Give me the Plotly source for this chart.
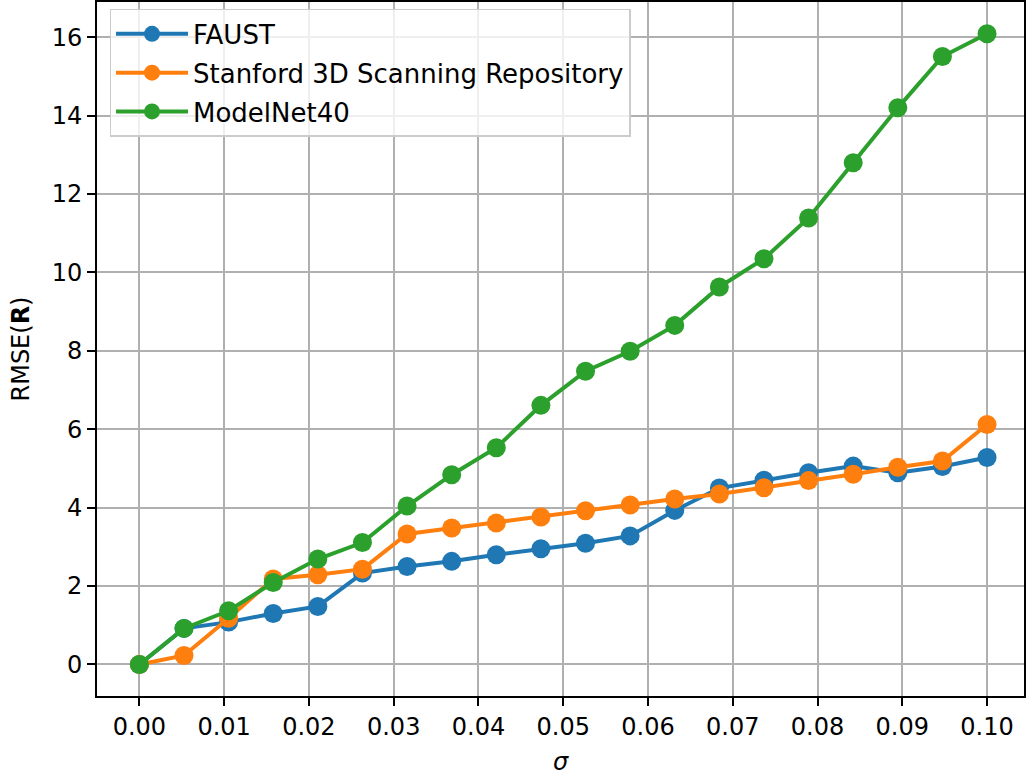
import plotly.graph_objects as go

sigma = [0.0, 0.005263, 0.010526, 0.015789, 0.021053, 0.026316, 0.031579,
         0.036842, 0.042105, 0.047368, 0.052632, 0.057895, 0.063158, 0.068421,
         0.073684, 0.078947, 0.084211, 0.089474, 0.094737, 0.1]

faust = [0.0, 0.92, 1.08, 1.30, 1.48, 2.33, 2.50, 2.63, 2.80, 2.95,
         3.09, 3.28, 3.93, 4.50, 4.70, 4.89, 5.06, 4.89, 5.05, 5.28]
stanford = [0.0, 0.23, 1.18, 2.18, 2.29, 2.43, 3.33, 3.48, 3.61, 3.76,
            3.92, 4.07, 4.22, 4.35, 4.51, 4.69, 4.85, 5.03, 5.19, 6.12]
modelnet = [0.0, 0.92, 1.37, 2.09, 2.69, 3.11, 4.04, 4.84, 5.53, 6.61,
            7.48, 7.99, 8.65, 9.63, 10.35, 11.39, 12.80, 14.20, 15.51, 16.09]

series_names = ["FAUST", "Stanford 3D Scanning Repository", "ModelNet40"]
series_values = [faust, stanford, modelnet]
colors = ["#1f77b4", "#ff7f0e", "#2ca02c"]

x_ticks = [0.0, 0.01, 0.02, 0.03, 0.04, 0.05, 0.06, 0.07, 0.08, 0.09, 0.10]
x_tick_labels = ["0.00", "0.01", "0.02", "0.03", "0.04", "0.05", "0.06",
                 "0.07", "0.08", "0.09", "0.10"]
y_ticks = [0, 2, 4, 6, 8, 10, 12, 14, 16]

FONT = "DejaVu Sans"

fig = go.Figure()
for i, (name, vals, col) in enumerate(zip(series_names, series_values, colors)):
    fig.add_trace(go.Scatter(
        x=sigma, y=vals, name=name, mode="lines+markers",
        line=dict(color=col, width=4),
        marker=dict(color=col, size=19),
        legendgroup=f"g{i}",
    ))

fig.update_layout(
    width=1026, height=776,
    margin=dict(l=97, r=0, t=0, b=80),
    paper_bgcolor="white", plot_bgcolor="white",
    font=dict(family=FONT, size=24, color="black"),
    showlegend=True,
    legend=dict(
        x=0.0135, y=0.99, xanchor="left", yanchor="top",
        bgcolor="rgba(255,255,255,0.8)", bordercolor="#cccccc", borderwidth=1.5,
        font=dict(family=FONT, size=26, color="black"),
        tracegroupgap=2, itemwidth=72,
    ),
    xaxis=dict(
        range=[-0.005, 0.10436],
        tickmode="array", tickvals=x_ticks, ticktext=x_tick_labels,
        tickfont=dict(family=FONT, size=24),
        showgrid=True, gridcolor="#b0b0b0", gridwidth=2,
        zeroline=False,
        showline=True, linecolor="black", linewidth=2, mirror=True,
        ticks="outside", ticklen=8, tickwidth=2, tickcolor="black",
        title=dict(text="<i>σ</i>", font=dict(family=FONT, size=24), standoff=14),
    ),
    yaxis=dict(
        range=[-0.805, 16.9],
        tickmode="array", tickvals=y_ticks,
        tickfont=dict(family=FONT, size=24),
        showgrid=True, gridcolor="#b0b0b0", gridwidth=2,
        zeroline=False,
        showline=True, linecolor="black", linewidth=2, mirror=True,
        ticks="outside", ticklen=8, tickwidth=2, tickcolor="black",
        title=dict(text="RMSE(<b>R</b>)", font=dict(family=FONT, size=24), standoff=15),
    ),
)

fig.write_html("out.html")
